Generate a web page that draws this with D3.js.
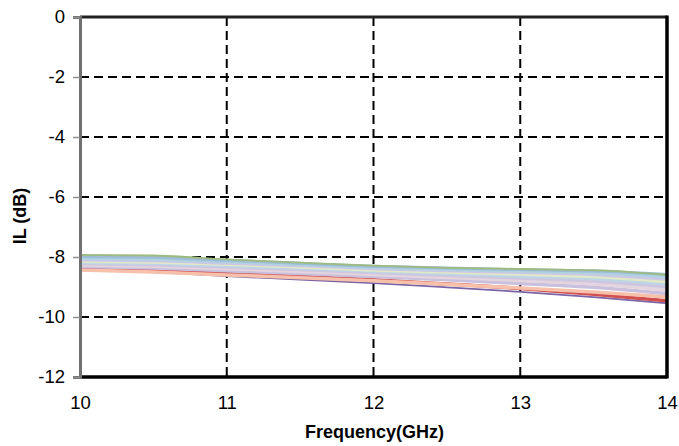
<!DOCTYPE html>
<html>
<head>
<meta charset="utf-8">
<script src="https://cdn.jsdelivr.net/npm/d3@7"></script>
<style>
  body { margin: 0; background: #fff; }
  text { font-family: "Liberation Sans", Arial, sans-serif; }
</style>
</head>
<body>
<div id="chart"></div>
<script>
// IL vs frequency, a band of pastel traces
const freqs = [10, 10.5, 11, 11.5, 12, 12.5, 13, 13.5, 14];
const xTicks = [10, 11, 12, 13, 14];
const yTicks = [0, -2, -4, -6, -8, -10, -12];

const s1 = [-7.93, -7.95, -8.08, -8.19, -8.29, -8.36, -8.40, -8.44, -8.60];
const s2 = [-7.98, -8.01, -8.11, -8.21, -8.31, -8.37, -8.42, -8.47, -8.58];
const s3 = [-8.04, -8.07, -8.15, -8.24, -8.34, -8.41, -8.46, -8.52, -8.65];
const s4 = [-8.09, -8.12, -8.20, -8.28, -8.38, -8.45, -8.51, -8.58, -8.73];
const s5 = [-8.14, -8.17, -8.24, -8.33, -8.43, -8.50, -8.57, -8.65, -8.82];
const s6 = [-8.18, -8.21, -8.28, -8.37, -8.47, -8.55, -8.63, -8.72, -8.90];
const s7 = [-8.22, -8.26, -8.33, -8.42, -8.52, -8.61, -8.70, -8.80, -8.99];
const s8 = [-8.27, -8.31, -8.39, -8.48, -8.58, -8.68, -8.78, -8.90, -9.10];
const s9 = [-8.32, -8.37, -8.46, -8.55, -8.65, -8.76, -8.88, -9.01, -9.22];
const s10 = [-8.43, -8.50, -8.60, -8.69, -8.79, -8.91, -9.03, -9.17, -9.33];
const s11 = [-8.36, -8.44, -8.55, -8.65, -8.76, -8.90, -9.05, -9.24, -9.46];
const s12 = [-8.40, -8.50, -8.64, -8.75, -8.87, -9.01, -9.16, -9.34, -9.54];

const series = [
    { values: s12, color: "#7a64a6", w: 1.8 },
    { values: s11, color: "#d05050", w: 3.5 },
    { values: s10, color: "#f6c0aa", w: 3.5 },
    { values: s9, color: "#c9c0de", w: 3.5 },
    { values: s8, color: "#e4d4de", w: 3.5 },
    { values: s7, color: "#cdc6e0", w: 3.5 },
    { values: s6, color: "#bcd6e6", w: 3.5 },
    { values: s5, color: "#e2e8c6", w: 3.5 },
    { values: s4, color: "#cbc8e6", w: 3.5 },
    { values: s3, color: "#aed2e2", w: 3.5 },
    { values: s2, color: "#9fbcd6", w: 3 },
    { values: s1, color: "#9dbb7e", w: 1.8 }
];

const margin = { top: 17, right: 12, bottom: 69, left: 80 },
    width = 679 - margin.left - margin.right,
    height = 446 - margin.top - margin.bottom;

const svg = d3.select("#chart")
    .append("svg")
    .attr("width", 679)
    .attr("height", 446)
    .append("g")
    .attr("transform", `translate(${margin.left},${margin.top})`);

const x = d3.scaleLinear().domain([10, 14]).range([0, width]);
const y = d3.scaleLinear().domain([-12, 0]).range([height, 0]);

// dashed grid
svg.append("g")
    .selectAll("line")
    .data(xTicks.slice(1, -1))
    .enter().append("line")
    .attr("x1", d => x(d)).attr("x2", d => x(d))
    .attr("y1", 0).attr("y2", height)
    .attr("stroke", "#000")
    .attr("stroke-width", 2)
    .attr("stroke-dasharray", "9,5");

svg.append("g")
    .selectAll("line")
    .data(yTicks.slice(1, -1))
    .enter().append("line")
    .attr("x1", 0).attr("x2", width)
    .attr("y1", d => y(d)).attr("y2", d => y(d))
    .attr("stroke", "#000")
    .attr("stroke-width", 2)
    .attr("stroke-dasharray", "9,5");

// traces
const line = d3.line()
    .x((d, i) => x(freqs[i]))
    .y(d => y(d))
    .curve(d3.curveMonotoneX);

svg.append("g")
    .selectAll("path")
    .data(series)
    .enter().append("path")
    .attr("fill", "none")
    .attr("stroke", d => d.color)
    .attr("stroke-width", d => d.w)
    .attr("d", d => line(d.values));

// frame
svg.append("line").attr("x1", 0).attr("x2", width).attr("y1", 0).attr("y2", 0)
    .attr("stroke", "#222").attr("stroke-width", 3);
svg.append("line").attr("x1", width).attr("x2", width).attr("y1", -1.5).attr("y2", height + 1.5)
    .attr("stroke", "#000").attr("stroke-width", 3.5);
svg.append("line").attr("x1", 0).attr("x2", width).attr("y1", height).attr("y2", height)
    .attr("stroke", "#000").attr("stroke-width", 3.5);

// y axis
const yAxis = svg.append("g")
    .call(d3.axisLeft(y).tickValues(yTicks).tickSize(7).tickPadding(8).tickFormat(d => String(d)));
yAxis.select(".domain").attr("stroke", "#707070").attr("stroke-width", 3);
yAxis.selectAll(".tick line").attr("stroke", "#909090").attr("stroke-width", 1.5);
yAxis.selectAll("text")
    .style("font-family", "Liberation Sans, Arial, sans-serif")
    .style("font-size", "18.5px")
    .attr("fill", "#000");

// x axis labels
const xAxis = svg.append("g")
    .attr("transform", `translate(0,${height})`)
    .call(d3.axisBottom(x).tickValues(xTicks).tickSize(0).tickPadding(19).tickFormat(d => String(d)));
xAxis.select(".domain").remove();
xAxis.selectAll("text")
    .style("font-family", "Liberation Sans, Arial, sans-serif")
    .style("font-size", "18.5px")
    .attr("fill", "#000");

// axis titles
svg.append("text")
    .attr("x", width / 2 + 1)
    .attr("y", height + 61)
    .attr("text-anchor", "middle")
    .style("font-size", "18px")
    .style("font-weight", "bold")
    .text("Frequency(GHz)");

svg.append("text")
    .attr("transform", `translate(-54,${199}) rotate(-90)`)
    .attr("text-anchor", "middle")
    .style("font-size", "18px")
    .style("font-weight", "bold")
    .text("IL (dB)");
</script>
</body>
</html>
